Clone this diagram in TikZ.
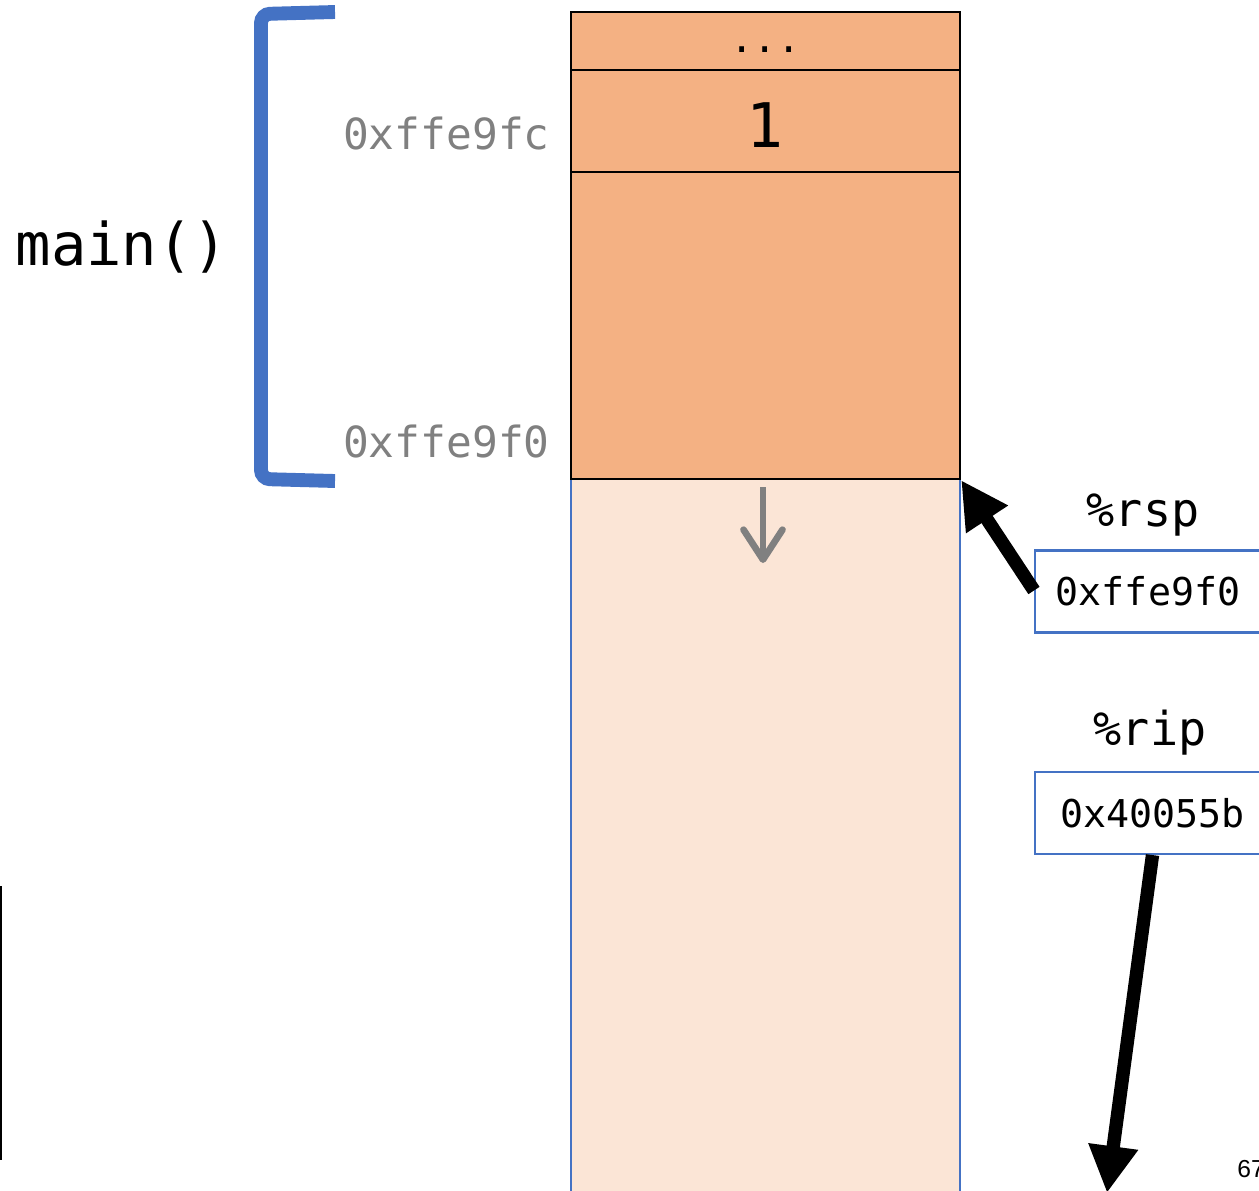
\documentclass[tikz,border=0pt]{standalone}
\usepackage{fontspec}
\setmonofont{DejaVu Sans Mono}
\newfontfamily\pagefont{Liberation Sans}
\usetikzlibrary{arrows.meta}
\definecolor{stackdark}{HTML}{F4B183}
\definecolor{stacklight}{HTML}{FBE5D6}
\definecolor{accent}{HTML}{4472C4}
\definecolor{addrgray}{HTML}{808080}
\tikzset{
  cell/.style={draw=black, line width=1.4pt, fill=stackdark, minimum width=7.78cm, inner sep=0pt, font=\ttfamily},
  addr/.style={anchor=east, inner sep=0pt, text=addrgray, font=\ttfamily\fontsize{24.4}{28}\selectfont},
  reglabel/.style={inner sep=0pt, font=\ttfamily\fontsize{26.6}{30}\selectfont},
  regbox/.style={draw=accent, line width=1.2pt, fill=white, minimum width=4.7cm, minimum height=1.64cm, inner sep=0pt, font=\ttfamily\fontsize{21.8}{26}\selectfont},
  bigarrow/.style={line width=7.6pt, -{Triangle[length=0.94cm, width=0.94cm]}},
}
\begin{document}
\begin{tikzpicture}[x=0.02cm, y=-0.02cm]
\path[use as bounding box] (0,0) rectangle (1259,1191);
\clip (0,0) rectangle (1259,1191);

% free (light) part of the stack
\fill[stacklight] (571,479) rectangle (960,1200);
\draw[accent, line width=1.1pt] (571,479) -- (571,1200) (960,479) -- (960,1200);

% stack cells
\node[cell, minimum height=1.16cm] (dots) at (765.5,41) {};
\node[inner sep=0pt, font=\ttfamily\fontsize{22}{24}\selectfont, anchor=base] (dotstxt) at (765.5,52) {...};
\node[cell, minimum height=2.04cm] (one) at (765.5,121) {};
\node[inner sep=0pt, font=\ttfamily\fontsize{35}{40}\selectfont] (onetxt) at (765.5,125) {1};
\node[cell, minimum height=6.14cm] (frame) at (765.5,325.5) {};

% growth arrow
\coordinate (growA) at (763,487);
\coordinate (growB) at (763,563);
\draw[addrgray, line width=3.8pt, -{Straight Barb[length=0.6cm, width=0.78cm, round]}] (growA) -- (growB);

% bracket for main()
\draw[accent, line width=7.9pt, rounded corners=0.18cm] (335,12) -- (261,14) -- (261,479) -- (335,481);
\node[inner sep=0pt, font=\ttfamily\fontsize{33.5}{37}\selectfont] (mainlbl) at (122,247) {main()};

% addresses
\node[addr] (a1) at (550,134) {0xffe9fc};
\node[addr] (a2) at (550,442) {0xffe9f0};

% registers
\node[reglabel] (rsplbl) at (1143,515) {\%rsp};
\node[regbox] (rspbox) at (1152.5,591.5) {\hspace*{-0.18cm}0xffe9f0};
\node[reglabel] (riplbl) at (1150,733) {\%rip};
\node[regbox] (ripbox) at (1152.5,813) {0x40055b};

\coordinate (riptip) at (1107,1193);
\draw[bigarrow] ([yshift=0.02cm]rspbox.west) -- (frame.south east);
\draw[bigarrow] (ripbox.south) -- (riptip);

% left edge line
\draw[line width=1.1pt] (1,886) -- (1,1160);

% page number
\node[anchor=base west, inner sep=0pt, font=\pagefont\fontsize{14}{16}\selectfont] (pg) at (1237,1177) {67};
\end{tikzpicture}
\end{document}
